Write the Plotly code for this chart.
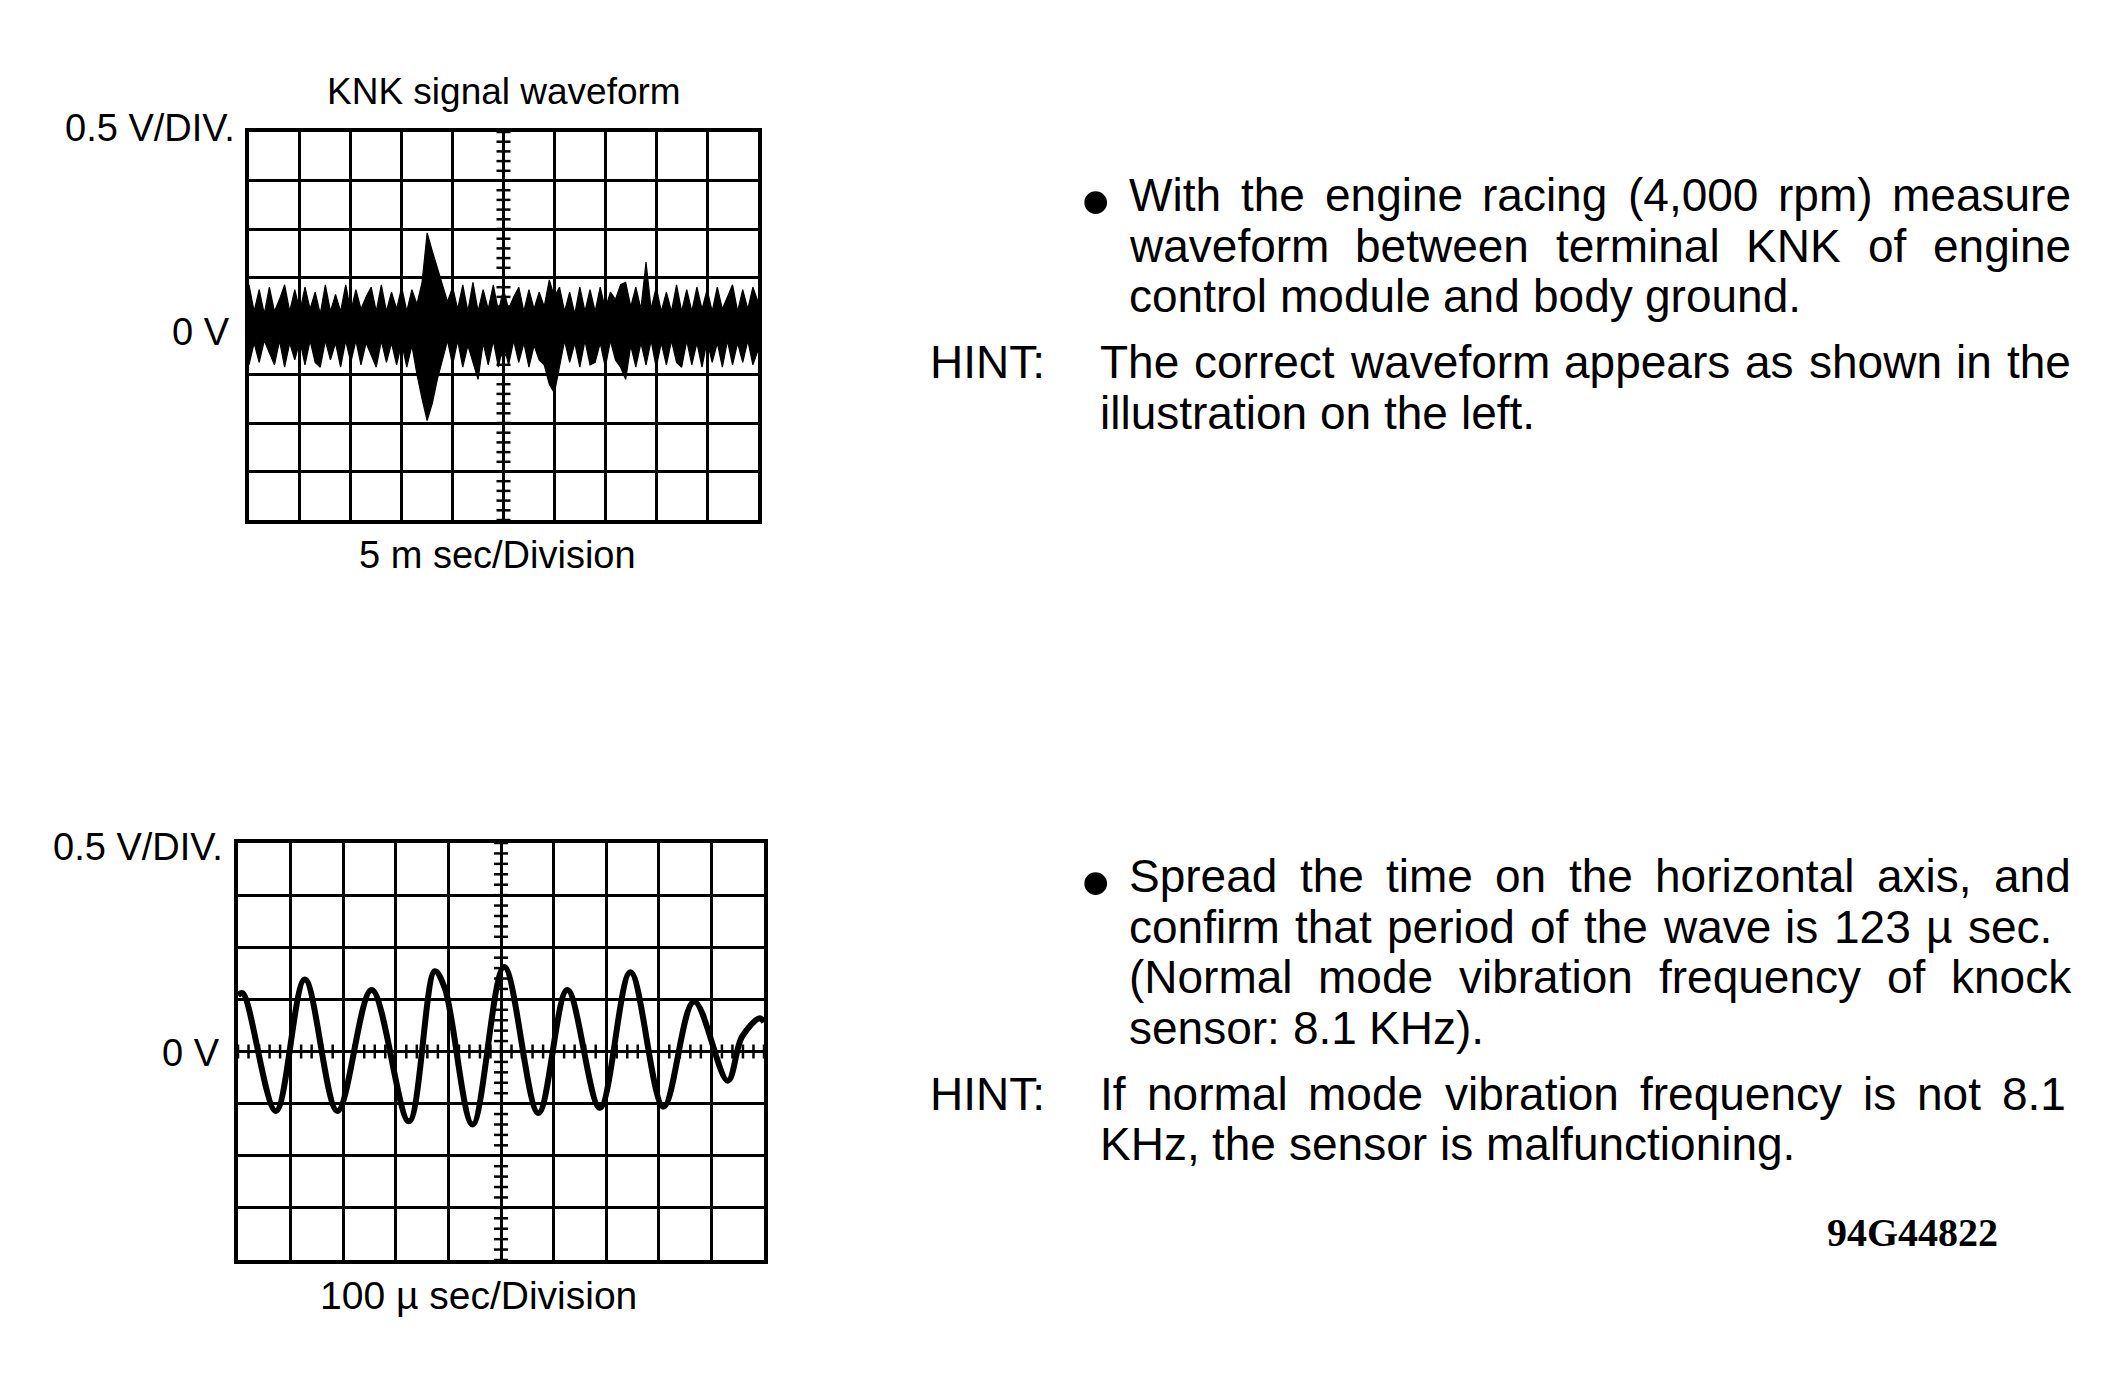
import numpy as np
import plotly.graph_objects as go

W, H = 2108, 1391

# ---------------- DATA ----------------
# Top trace: KNK signal (5 ms/div, 0.5 V/div) - envelope of the noisy band
knk_time_ms = [round(0.5 * i, 1) for i in range(101)]
knk_upper_v = [0.425, 0.15, 0.375, 0.125, 0.4, 0.15, 0.275, 0.425, 0.15, 0.375,
               0.15, 0.4, 0.175, 0.35, 0.125, 0.425, 0.15, 0.325, 0.15, 0.425,
               0.15, 0.375, 0.175, 0.3, 0.4, 0.15, 0.425, 0.15, 0.35, 0.175,
               0.4, 0.15, 0.375, 0.225, 0.45, 0.96, 0.775, 0.6, 0.425, 0.25,
               0.4, 0.175, 0.425, 0.15, 0.45, 0.15, 0.375, 0.175, 0.425, 0.15,
               0.375, 0.175, 0.3, 0.4, 0.15, 0.375, 0.175, 0.35, 0.2, 0.475,
               0.3, 0.4, 0.15, 0.35, 0.125, 0.4, 0.15, 0.375, 0.15, 0.4,
               0.175, 0.35, 0.275, 0.425, 0.45, 0.2, 0.4, 0.175, 0.66, 0.175,
               0.4, 0.15, 0.35, 0.15, 0.425, 0.15, 0.375, 0.15, 0.4, 0.175,
               0.375, 0.15, 0.4, 0.175, 0.3, 0.425, 0.15, 0.375, 0.175, 0.4, 0.25]
knk_lower_v = [-0.4, -0.175, -0.375, -0.15, -0.275, -0.4, -0.15, -0.425, -0.175, -0.35,
               -0.15, -0.4, -0.15, -0.375, -0.425, -0.15, -0.35, -0.175, -0.425, -0.15,
               -0.375, -0.15, -0.4, -0.175, -0.3, -0.425, -0.15, -0.375, -0.175, -0.4,
               -0.175, -0.425, -0.2, -0.5, -0.75, -0.975, -0.8, -0.55, -0.35, -0.15,
               -0.4, -0.15, -0.425, -0.2, -0.375, -0.55, -0.175, -0.4, -0.15, -0.425,
               -0.175, -0.4, -0.15, -0.375, -0.175, -0.425, -0.2, -0.35, -0.4, -0.6,
               -0.69, -0.4, -0.15, -0.375, -0.175, -0.425, -0.15, -0.4, -0.375, -0.175,
               -0.425, -0.15, -0.35, -0.425, -0.55, -0.2, -0.425, -0.175, -0.4, -0.15,
               -0.425, -0.175, -0.4, -0.15, -0.375, -0.425, -0.15, -0.4, -0.175, -0.425,
               -0.15, -0.375, -0.175, -0.425, -0.15, -0.4, -0.175, -0.375, -0.15, -0.4, -0.25]

# Bottom trace: spread time base (100 us/div, 0.5 V/div) - peaks / troughs
wave_time_us = [0, 9, 72, 127, 189, 254, 325, 374, 393, 446, 506, 571, 626, 688, 746,
                809, 867, 931, 958, 992, 1000]
wave_volt = [0.54, 0.56, -0.57, 0.69, -0.57, 0.59, -0.67, 0.77, 0.61, -0.70, 0.81, -0.59,
             0.59, -0.54, 0.76, -0.53, 0.48, -0.28, 0.14, 0.32, 0.28]

# Texts
top_title = "KNK signal waveform"
volt_div_label = "0.5 V/DIV."
zero_label = "0 V"
top_time_label = "5 m sec/Division"
bottom_time_label = "100 \u00b5 sec/Division"
hint_label = "HINT:"
block1_bullet = ["With the engine racing (4,000 rpm) measure",
                 "waveform between terminal KNK of engine",
                 "control module and body ground."]
block1_hint = ["The correct waveform appears as shown in the",
               "illustration on the left."]
block2_bullet = ["Spread the time on the horizontal axis, and",
                 "confirm that period of the wave is 123 \u00b5 sec.",
                 "(Normal mode vibration frequency of knock",
                 "sensor: 8.1 KHz)."]
block2_hint = ["If normal mode vibration frequency is not 8.1",
               "KHz, the sensor is malfunctioning."]
figure_code = "94G44822"

# ---------------- LAYOUT HELPERS ----------------
SANS = "Liberation Sans, Arial, Helvetica, sans-serif"
SERIF = "Liberation Serif, Times New Roman, serif"

AW = {' ': 278, '.': 278, ',': 278, ':': 278, '(': 333, ')': 333, '/': 278, '-': 333, '\u00b5': 576}
for ch in '0123456789':
    AW[ch] = 556
AW.update(dict(a=556, b=556, c=500, d=556, e=556, f=278, g=556, h=556, i=222, j=222, k=500,
               l=222, m=833, n=556, o=556, p=556, q=556, r=333, s=500, t=278, u=556, v=500,
               w=722, x=500, y=500, z=500))
AW.update(dict(A=667, B=667, C=722, D=722, E=667, F=611, G=778, H=722, I=278, J=500, K=667,
               L=556, M=833, N=722, O=778, P=667, Q=778, R=722, S=667, T=611, U=722, V=667,
               W=944, X=667, Y=667, Z=611))


def tw(s, size):
    return sum(AW.get(c, 556) for c in s) * size / 1000.0


annotations = []


def ann(text, px, py, xanchor='center', size=38, family=SANS, weight=None):
    f = dict(family=family, size=size, color='black')
    if weight:
        f['weight'] = weight
    annotations.append(dict(text=text, x=px / W, y=1 - py / H, xref='paper', yref='paper',
                            xanchor=xanchor, yanchor='middle', showarrow=False, font=f,
                            borderpad=0, borderwidth=0))


def text_line(text, x0, yc, right=None, size=46):
    words = text.split(' ')
    widths = [tw(w, size) for w in words]
    if right is not None and len(words) > 1:
        gap = (right - x0 - sum(widths)) / (len(words) - 1)
    else:
        gap = tw(' ', size)
    x = x0
    for w, wd in zip(words, widths):
        ann(w, x, yc, xanchor='left', size=size)
        x += wd + gap


# ---------------- FIGURE ----------------
fig = go.Figure()

# top scope: envelope band
fig.add_trace(go.Scatter(x=knk_time_ms, y=knk_lower_v, mode='lines',
                         line=dict(color='black', width=1.2), xaxis='x', yaxis='y',
                         showlegend=False, hoverinfo='skip'))
fig.add_trace(go.Scatter(x=knk_time_ms, y=knk_upper_v, mode='lines', fill='tonexty',
                         fillcolor='black', line=dict(color='black', width=1.2),
                         xaxis='x', yaxis='y', showlegend=False, hoverinfo='skip'))

# graticule minor ticks (centre lines)
minor_v = np.round(np.arange(-2.0, 2.0001, 0.1), 3)
fig.add_trace(go.Scatter(x=[25] * len(minor_v), y=minor_v, mode='markers',
                         marker=dict(symbol='line-ew', size=10, line=dict(color='black', width=2.5)),
                         xaxis='x', yaxis='y', showlegend=False, hoverinfo='skip'))
fig.add_trace(go.Scatter(x=[500] * len(minor_v), y=minor_v, mode='markers',
                         marker=dict(symbol='line-ew', size=10, line=dict(color='black', width=2.5)),
                         xaxis='x2', yaxis='y2', showlegend=False, hoverinfo='skip'))
minor_t = np.round(np.arange(0, 1000.01, 20), 2)
fig.add_trace(go.Scatter(x=minor_t, y=[0] * len(minor_t), mode='markers',
                         marker=dict(symbol='line-ns', size=10, line=dict(color='black', width=2.5)),
                         xaxis='x2', yaxis='y2', showlegend=False, hoverinfo='skip'))

# bottom scope waveform
fig.add_trace(go.Scatter(x=wave_time_us, y=wave_volt, mode='lines',
                         line=dict(color='black', width=6, shape='spline', smoothing=1.0),
                         xaxis='x2', yaxis='y2', showlegend=False, hoverinfo='skip'))

axis_common = dict(showline=True, mirror=True, linecolor='black', linewidth=4,
                   showgrid=True, gridcolor='black', gridwidth=3, zeroline=False,
                   ticks='', showticklabels=False, fixedrange=True)

fig.update_layout(
    width=W, height=H, margin=dict(l=0, r=0, t=0, b=0),
    paper_bgcolor='white', plot_bgcolor='white', showlegend=False,
    xaxis=dict(domain=[249 / W, 758 / W], range=[0, 50], dtick=5, tick0=0, anchor='y', **axis_common),
    yaxis=dict(domain=[1 - 520 / H, 1 - 132 / H], range=[-2, 2], dtick=0.5, tick0=0, anchor='x', **axis_common),
    xaxis2=dict(domain=[238 / W, 764 / W], range=[0, 1000], dtick=100, tick0=0, anchor='y2', **axis_common),
    yaxis2=dict(domain=[1 - 1260 / H, 1 - 843 / H], range=[-2, 2], dtick=0.5, tick0=0, anchor='x2', **axis_common),
)

# scope labels
ann(top_title, 504, 91, size=37)
ann(volt_div_label, 235, 128, xanchor='right', size=38)
ann(zero_label, 230, 332, xanchor='right', size=38)
ann(top_time_label, 497, 555, size=38)
ann(volt_div_label, 223, 847, xanchor='right', size=38)
ann(zero_label, 220, 1053, xanchor='right', size=38)
ann(bottom_time_label, 478, 1295, size=39)

# right-hand text
ann("\u2022", 1095, 201, size=84)
text_line(block1_bullet[0], 1129, 195, right=2071)
text_line(block1_bullet[1], 1129, 246, right=2071)
text_line(block1_bullet[2], 1129, 296)
ann(hint_label, 930, 362, xanchor='left', size=46)
text_line(block1_hint[0], 1100, 362, right=2071)
text_line(block1_hint[1], 1100, 413)

ann("\u2022", 1095, 882, size=84)
text_line(block2_bullet[0], 1129, 876, right=2071)
text_line(block2_bullet[1], 1129, 927, right=2052)
text_line(block2_bullet[2], 1129, 977, right=2071)
text_line(block2_bullet[3], 1129, 1028)
ann(hint_label, 930, 1094, xanchor='left', size=46)
text_line(block2_hint[0], 1100, 1094, right=2066)
text_line(block2_hint[1], 1100, 1144)

ann(figure_code, 1912, 1232, size=40, family=SERIF, weight='bold')

fig.update_layout(annotations=annotations)

fig.write_html("out.html", config=dict(displayModeBar=False, staticPlot=True),
               post_script="document.body.style.margin='0';document.body.style.overflow='hidden';")
